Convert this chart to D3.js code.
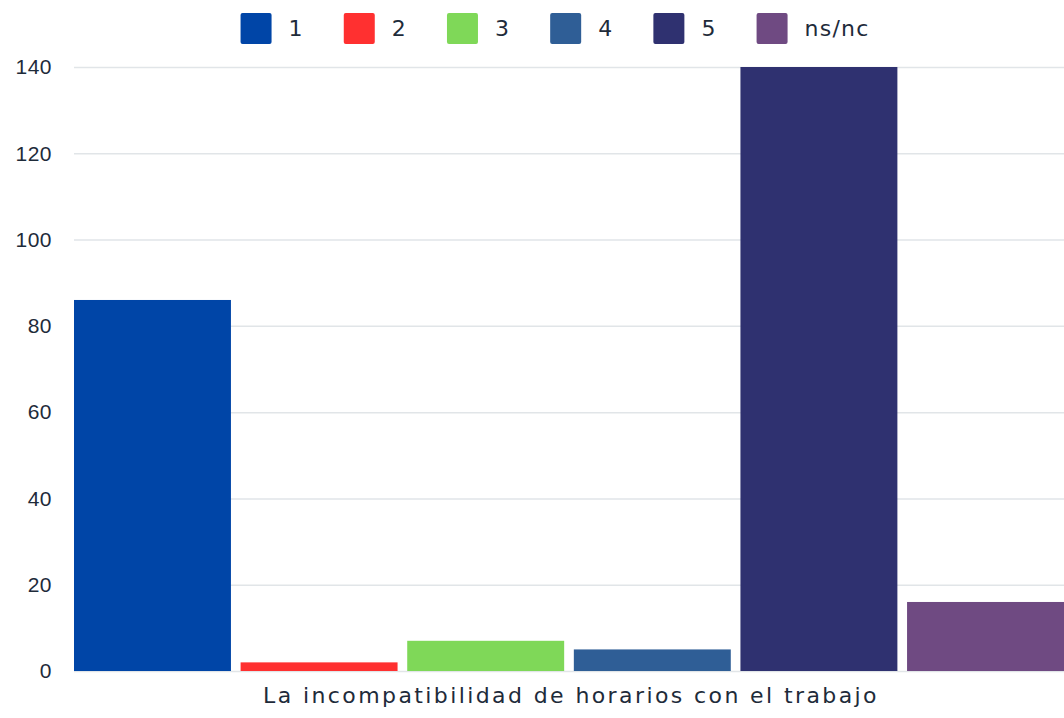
<!DOCTYPE html>
<html>
<head>
<meta charset="utf-8">
<script src="https://cdn.jsdelivr.net/npm/d3@7"></script>
<style>
  html, body { margin: 0; padding: 0; background: #fff; }
  svg { display: block; font-family: "DejaVu Sans", "Noto Sans", sans-serif; }
</style>
</head>
<body>
<div id="chart"></div>
<script>
// Single category, six answer series
const categories = ["La incompatibilidad de horarios con el trabajo"];
const seriesNames = ["1", "2", "3", "4", "5", "ns/nc"];
const seriesValues = [86, 2, 7, 5, 140, 16];
const seriesColors = ["#0045a7", "#ff3030", "#7fd858", "#2f5e96", "#2f3170", "#6f4a82"];
const yTicks = [0, 20, 40, 60, 80, 100, 120, 140];

const width = 1064;
const height = 718;
const margin = {top: 67, right: 0, bottom: 47, left: 74};
const textColor = "#1e2b3a";
const fontSize = "22px";
const spacing = "2.4px";

const svg = d3.select("#chart").append("svg")
    .attr("width", width)
    .attr("height", height);

const x0 = d3.scaleBand()
    .domain(categories)
    .range([margin.left, width - margin.right])
    .padding(0);

const x1 = d3.scaleBand()
    .domain(seriesNames)
    .range([0, x0.bandwidth()])
    .paddingInner(0.058)
    .paddingOuter(0);

const y = d3.scaleLinear()
    .domain([0, 140])
    .range([height - margin.bottom, margin.top]);

// grid + y labels
const yAxis = svg.append("g")
    .attr("transform", `translate(${margin.left},0)`)
    .call(d3.axisLeft(y)
        .tickValues(yTicks)
        .tickSize(-(width - margin.left - margin.right))
        .tickPadding(22));

yAxis.select(".domain").remove();
yAxis.selectAll(".tick line")
    .attr("stroke", "#e1e5e8")
    .attr("stroke-width", 1.5);
yAxis.selectAll(".tick text")
    .attr("fill", textColor)
    .style("font-size", "21px")
    .style("letter-spacing", "0.5px");

// bars
const rows = seriesNames.map((s, i) => ({name: s, value: seriesValues[i], color: seriesColors[i]}));

svg.append("g")
    .selectAll("g")
    .data(categories)
    .join("g")
    .attr("transform", d => `translate(${x0(d)},0)`)
    .selectAll("rect")
    .data(rows)
    .join("rect")
    .attr("x", d => x1(d.name))
    .attr("y", d => y(d.value))
    .attr("width", x1.bandwidth())
    .attr("height", d => y(0) - y(d.value))
    .attr("fill", d => d.color);

// category label
svg.append("g")
    .selectAll("text")
    .data(categories)
    .join("text")
    .attr("x", d => x0(d) + x0.bandwidth() / 2 + 2)
    .attr("y", height - 15)
    .attr("text-anchor", "middle")
    .attr("fill", textColor)
    .style("font-size", fontSize)
    .style("letter-spacing", spacing)
    .text(d => d);

// legend, centred above the plot
const legend = svg.append("g");
const swatch = 31;
const gap = 40;
const item = legend.selectAll("g")
    .data(rows)
    .join("g");

item.append("rect")
    .attr("width", swatch)
    .attr("height", swatch)
    .attr("rx", 2)
    .attr("fill", d => d.color);

item.append("text")
    .attr("x", swatch + 17)
    .attr("y", swatch / 2)
    .attr("dy", "0.36em")
    .attr("fill", textColor)
    .style("font-size", fontSize)
    .style("letter-spacing", "1.2px")
    .text(d => d.name);

let cursor = 0;
item.each(function () {
    const w = this.querySelector("text").getComputedTextLength();
    d3.select(this).attr("transform", `translate(${cursor},0)`);
    cursor += swatch + 17 + w + gap;
});
const legendWidth = cursor - gap;
legend.attr("transform", `translate(${555 - legendWidth / 2},13)`);
</script>
</body>
</html>
